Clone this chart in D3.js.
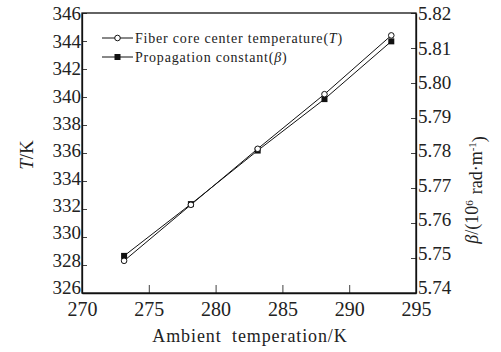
<!DOCTYPE html>
<html>
  <head>
    <meta charset="UTF-8">
    <style>
      body {
        margin: 0;
        background: white;
      }
      text {
        font-family: "Liberation Serif", "Times New Roman", serif;
      }
      .domain, .tick line {
        stroke: #111;
      }
    </style>
    <script src="https://d3js.org/d3.v7.min.js"></script>
  </head>
  <body>
    <svg id="chart"></svg>
    <script>
      // ambient temperature (K)
      let ambient = [273.15, 278.15, 283.15, 288.15, 293.15]
      // fiber core center temperature T (K)
      let coreTemp = [328.3, 332.3, 336.3, 340.2, 344.4]
      // propagation constant beta (10^6 rad/m)
      let beta = [5.7506, 5.7654, 5.7807, 5.7954, 5.8119]

      let xTicks = [270, 275, 280, 285, 290, 295]
      let leftTicks = [326, 328, 330, 332, 334, 336, 338, 340, 342, 344, 346]
      let rightTicks = [5.74, 5.75, 5.76, 5.77, 5.78, 5.79, 5.80, 5.81, 5.82]

      let serif = '"Liberation Serif", "Times New Roman", serif'
      let width = 501
      let height = 352
      let margin = { top: 13, bottom: 59, left: 82, right: 85 }

      let svg = d3.select('#chart')
        .attr('width', width)
        .attr('height', height)

      let x = d3.scaleLinear()
        .domain([270, 295])
        .range([margin.left, width - margin.right])

      let yLeft = d3.scaleLinear()
        .domain([326, 346])
        .range([height - margin.bottom, margin.top])

      let yRight = d3.scaleLinear()
        .domain([5.74, 5.82])
        .range([height - margin.bottom, margin.top])

      // labels sit a bit low at the top and a bit high at the bottom, like the original
      let labelShift = d3.scaleLinear()
        .domain([margin.top, height - margin.bottom])
        .range([0.36, 0.04])

      // frame
      svg.append('rect')
        .attr('x', margin.left)
        .attr('y', margin.top)
        .attr('width', width - margin.left - margin.right)
        .attr('height', height - margin.top - margin.bottom)
        .attr('fill', 'none')
        .attr('stroke', '#111')
        .attr('stroke-width', 1.3)

      let xAxis = svg.append('g')
        .attr('transform', `translate(0, ${height - margin.bottom})`)
        .call(d3.axisBottom(x).tickValues(xTicks).tickSizeInner(-8).tickSizeOuter(0).tickPadding(15))
      xAxis.selectAll('.tick text').attr('dy', '0.42em')

      let leftAxis = svg.append('g')
        .attr('transform', `translate(${margin.left}, 0)`)
        .call(d3.axisLeft(yLeft).tickValues(leftTicks).tickSizeInner(-5).tickSizeOuter(0).tickPadding(1))
      leftAxis.selectAll('.tick text').attr('dy', d => labelShift(yLeft(d)) + 'em')

      let rightAxis = svg.append('g')
        .attr('transform', `translate(${width - margin.right}, 0)`)
        .call(d3.axisRight(yRight).tickValues(rightTicks).tickFormat(d3.format('.2f')).tickSizeInner(-5).tickSizeOuter(0).tickPadding(2))
      rightAxis.selectAll('.tick text').attr('dy', d => labelShift(yRight(d)) + 'em')

      svg.selectAll('.tick text')
        .style('font-family', serif)
        .style('font-size', '19px')
        .attr('fill', '#222')
      xAxis.selectAll('.tick text').style('font-size', '20px')
      svg.selectAll('.domain').attr('stroke-width', 1.3)
      svg.selectAll('.tick line').attr('stroke-width', 0.8)

      // lines
      let tLine = d3.line()
        .x((d, i) => x(ambient[i]))
        .y(d => yLeft(d))
      let bLine = d3.line()
        .x((d, i) => x(ambient[i]))
        .y(d => yRight(d))

      svg.append('path')
        .datum(coreTemp)
        .attr('d', tLine)
        .attr('fill', 'none')
        .attr('stroke', '#111')
        .attr('stroke-width', 1)

      svg.append('path')
        .datum(beta)
        .attr('d', bLine)
        .attr('fill', 'none')
        .attr('stroke', '#111')
        .attr('stroke-width', 1)

      svg.append('g')
        .selectAll('rect')
        .data(beta)
        .enter()
        .append('rect')
        .attr('x', (d, i) => x(ambient[i]) - 3)
        .attr('y', d => yRight(d) - 3)
        .attr('width', 6)
        .attr('height', 6)
        .attr('fill', '#111')

      svg.append('g')
        .selectAll('circle')
        .data(coreTemp)
        .enter()
        .append('circle')
        .attr('cx', (d, i) => x(ambient[i]))
        .attr('cy', d => yLeft(d))
        .attr('r', 2.8)
        .attr('fill', 'white')
        .attr('stroke', '#111')
        .attr('stroke-width', 1)

      // legend
      let legend = svg.append('g')
        .attr('transform', 'translate(102, 38)')

      legend.append('line')
        .attr('x1', 0).attr('x2', 31).attr('y1', 0).attr('y2', 0)
        .attr('stroke', '#111')
      legend.append('circle')
        .attr('cx', 15.5).attr('cy', 0).attr('r', 2.8)
        .attr('fill', 'white').attr('stroke', '#111')
      let t1 = legend.append('text')
        .attr('x', 33).attr('y', 0).attr('dy', '0.35em')
        .style('font-size', '14px')
        .style('letter-spacing', '0.8px')
        .attr('fill', '#222')
      t1.append('tspan').text('Fiber core center temperature(')
      t1.append('tspan').style('font-style', 'italic').text('T')
      t1.append('tspan').text(')')

      legend.append('line')
        .attr('x1', 0).attr('x2', 31).attr('y1', 19).attr('y2', 19)
        .attr('stroke', '#111')
      legend.append('rect')
        .attr('x', 12.5).attr('y', 16).attr('width', 6).attr('height', 6)
        .attr('fill', '#111')
      let t2 = legend.append('text')
        .attr('x', 33).attr('y', 19).attr('dy', '0.35em')
        .style('font-size', '14px')
        .style('letter-spacing', '0.8px')
        .attr('fill', '#222')
      t2.append('tspan').text('Propagation constant(')
      t2.append('tspan').style('font-style', 'italic').text('β')
      t2.append('tspan').text(')')

      // axis titles
      svg.append('text')
        .attr('x', 250)
        .attr('y', 342)
        .attr('text-anchor', 'middle')
        .style('font-size', '18px')
        .style('letter-spacing', '0.9px')
        .style('word-spacing', '5px')
        .attr('fill', '#222')
        .text('Ambient temperation/K')

      let lt = svg.append('text')
        .attr('transform', 'translate(33, 155) rotate(-90)')
        .attr('text-anchor', 'middle')
        .style('font-size', '19px')
        .attr('fill', '#222')
      lt.append('tspan').style('font-style', 'italic').text('T')
      lt.append('tspan').text('/K')

      let rt = svg.append('text')
        .attr('transform', 'translate(478, 190) rotate(-90)')
        .attr('text-anchor', 'middle')
        .style('font-size', '18px')
        .attr('fill', '#222')
      rt.append('tspan').style('font-style', 'italic').text('β')
      rt.append('tspan').text('/(10')
      rt.append('tspan').attr('dy', '-0.5em').style('font-size', '11px').text('6')
      rt.append('tspan').attr('dy', '0.5em').attr('dx', '6').text('rad·m')
      rt.append('tspan').attr('dy', '-0.5em').style('font-size', '11px').text('-1')
      rt.append('tspan').attr('dy', '0.5em').text(')')
    </script>
  </body>
</html>
